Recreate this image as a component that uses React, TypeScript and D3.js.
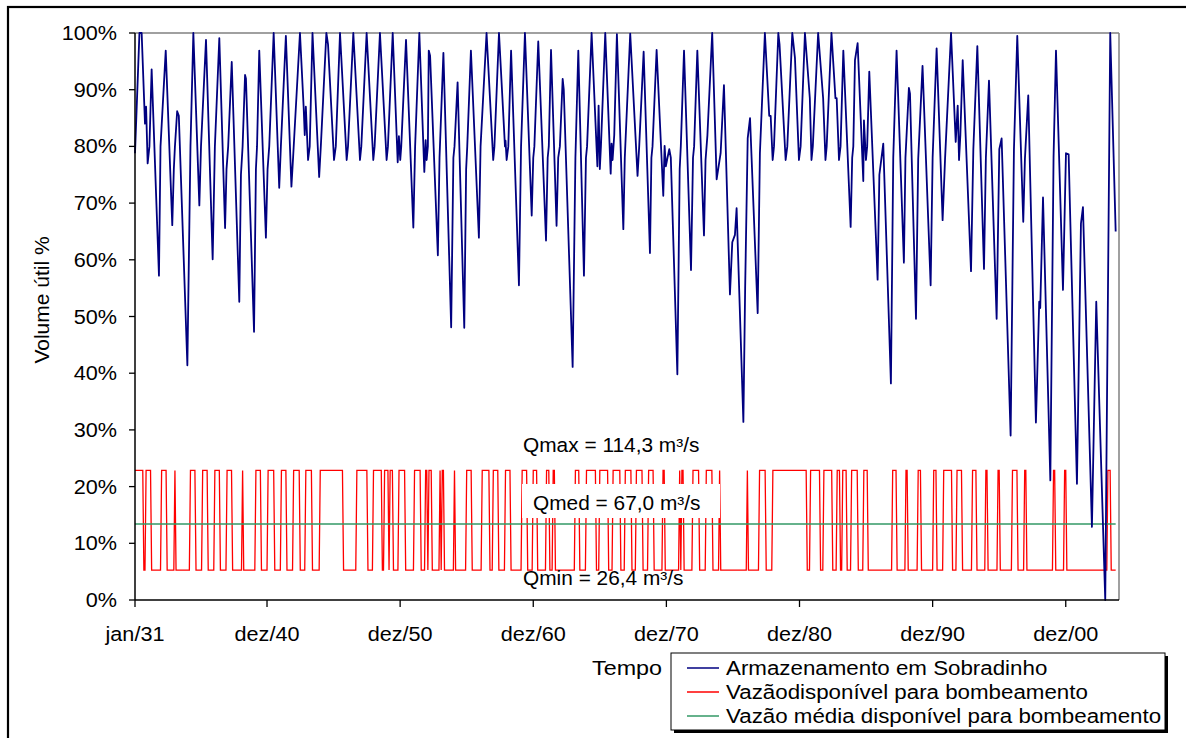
import React from "react";
import * as d3 from "d3";

// chart frame (pixels inside the 1186x738 picture)
const W = 1186;
const H = 738;
const plot = { left: 135, top: 33, right: 1119, bottom: 600 };

// months are counted from jan/1931 (index 0)
const nMonths = 888;
const lastMonth = 884;

const yTicks = [0, 10, 20, 30, 40, 50, 60, 70, 80, 90, 100];
const xTickMonths = [0, 119, 239, 359, 479, 599, 719, 839];
const xTickLabels = ["jan/31", "dez/40", "dez/50", "dez/60", "dez/70", "dez/80", "dez/90", "dez/00"];

// Armazenamento em Sobradinho (% volume útil), [mês, valor] read at the turning points
const armazenamento: [number, number][] = [
  [0, 78.8], [4, 100], [6, 100], [9, 84], [10, 87], [11.4, 77], [13, 80], [15, 93.6], [21.6, 57.2], [23, 80],
  [27.7, 96.9], [33.6, 66.1], [35, 76], [36, 80], [38, 86.2], [39.5, 85.4], [47.2, 41.4], [50, 80], [52.6, 100],
  [58, 69.6], [59.5, 80], [64, 98.8], [70, 60.1], [72, 80], [76, 99.1], [81.2, 65.6], [82.5, 76], [84, 80],
  [87.2, 94.9], [94, 52.6], [95.5, 75], [97, 80], [99.2, 92.6], [100, 92], [107.3, 47.3], [109, 76], [110, 80],
  [112, 96.9], [118, 63.9], [119.5, 76], [121, 80], [125, 100], [130, 72.7], [131.5, 80], [136, 99.5],
  [141, 72.9], [142.5, 78], [148.7, 100], [152, 87], [153, 82], [154, 87], [156, 77.6], [157.5, 80], [160, 100],
  [166, 74.6], [167.5, 80], [172.5, 100], [174, 98], [179.4, 77.6], [181, 80], [184.8, 100], [190.8, 77.6],
  [192, 80], [196.8, 100], [202.8, 77.6], [204, 80], [208.8, 100], [214.8, 77.6], [216, 80], [220.8, 100],
  [226.8, 77.6], [228, 80], [232.3, 100], [236.8, 77.2], [237.9, 81.8], [239.1, 77.6], [240, 80], [244.3, 98.8],
  [250.9, 65.7], [252.5, 80], [256.3, 100], [260.8, 75.5], [262, 81.1], [262.9, 77.6], [264, 80], [264.8, 96.9],
  [266, 96], [273, 60.8], [274.5, 78], [278, 96.5], [285, 48.1], [287, 78], [288, 80], [290.8, 91.3], [296.8, 48],
  [298.5, 76], [299.5, 80], [302.8, 96.9], [310, 63.9], [311.5, 80], [316.9, 100], [322.9, 77.6], [324, 80],
  [328.1, 100], [333.5, 80], [334, 81], [335, 77.6], [336.5, 80], [339, 96.9], [346.1, 55.5], [348, 80],
  [351.5, 100], [357.6, 67.8], [359, 78], [360, 80], [363.5, 98.5], [370.5, 63.4], [372, 78], [373, 80], [375, 97],
  [380, 66], [381.5, 78], [383, 80], [385.5, 91.9], [386.5, 90], [394.5, 41.1], [397, 78], [399.6, 96.9],
  [404.7, 57.2], [406.5, 78], [407.5, 80], [411.6, 100], [416.8, 76.5], [417.9, 87.2], [419, 76], [420, 80],
  [423.9, 100], [428.8, 75.2], [429.6, 80.5], [430.5, 77.6], [432, 82], [434.4, 99.8], [440.2, 65.4], [441.5, 78],
  [446.4, 99.9], [453, 74.8], [454.5, 80], [458.5, 96.7], [464.2, 61.2], [465.5, 78], [466.5, 80], [470.2, 97],
  [476.2, 71.3], [477.4, 80.1], [478.5, 76.5], [480, 78], [481.6, 79.5], [483, 78], [488.9, 39.8], [491, 76],
  [492, 80], [494.9, 96.9], [501.2, 58.2], [503, 78], [504, 80], [506.9, 96.9], [512.9, 64.3], [514.3, 77.6],
  [516, 82], [520.3, 100], [524.3, 74.2], [527.9, 78.8], [530.9, 90.8], [536.3, 53.9], [538.4, 63.1], [540.8, 64.4],
  [542.3, 69.1], [548.4, 31.4], [550, 55], [552.3, 81.4], [554.4, 85], [561.3, 50.6], [563.3, 78.8], [567.8, 100],
  [571.7, 85.4], [573, 85.4], [574.8, 77.6], [576, 80], [579.9, 100], [581, 98], [586.5, 77.6], [588, 80],
  [592.5, 100], [594.9, 95.6], [598.5, 77.6], [600, 80], [603.9, 100], [608.3, 88.5], [609.8, 77.6], [611, 80],
  [615.8, 100], [620.3, 88.5], [622.4, 77.6], [623.5, 80], [627.8, 100], [631.4, 88.5], [632.5, 88.5],
  [634.6, 77.6], [636, 80], [638.5, 96.9], [645.1, 65.8], [646.5, 78], [647.5, 80], [649, 95.2], [651.4, 98.2],
  [656.5, 73.9], [657.1, 84.6], [658.9, 77.6], [660, 80], [661.9, 93.2], [669.4, 56.5], [671, 75], [674.5, 80.5],
  [681.4, 38.2], [683.5, 78], [686.5, 96.9], [693.1, 59.5], [694.5, 78], [697.6, 90.3], [698.6, 89.3], [704, 49.6],
  [706, 77.8], [709.9, 94.2], [717.2, 55.5], [719, 78], [722.6, 97.3], [728, 67], [730.2, 77.8], [735.6, 100],
  [739.8, 80.8], [741.6, 87.2], [742.8, 77.6], [744, 82], [746.1, 95.2], [753.6, 58], [755.7, 79.5], [759.3, 97.7],
  [765.3, 58.4], [767, 78], [769.8, 91.6], [776.7, 49.6], [779.1, 79.5], [781.2, 81.4], [789.3, 29], [792.3, 79.5],
  [795.3, 99.5], [800.7, 66.7], [802.2, 77.8], [805.2, 89], [812.1, 31.3], [815.1, 52.6], [816, 51.5],
  [818.5, 71], [825.1, 21.1], [828, 78], [830.2, 96.9], [836.5, 54.7], [839.2, 78.8], [841.6, 78.6],
  [849.1, 20.5], [852.7, 66.4], [854.5, 69.3], [862.6, 12.9], [866.5, 52.6], [874.6, 0], [879.1, 100], [884, 65],
];

// Vazão disponível para bombeamento: months [início, fim) at the high level
const vazaoAlta: [number, number][] = [
  [0, 8], [10, 15], [24, 29], [36, 37], [50, 55], [61, 66], [72, 77], [83, 88], [97, 98], [109, 114], [120, 126],
  [132, 137], [143, 149], [154, 160], [167, 188], [200, 210], [215, 223], [225, 229], [230, 233], [238, 244],
  [252, 258], [262, 264], [265, 268], [275, 276], [277, 279], [288, 289], [299, 304], [313, 320], [323, 328],
  [334, 339], [349, 354], [359, 363], [371, 374], [377, 379], [397, 401], [407, 416], [419, 427], [431, 438],
  [442, 448], [452, 458], [463, 468], [476, 478], [491, 492], [493, 495], [503, 509], [515, 521], [527, 528],
  [552, 553], [563, 569], [575, 606], [609, 618], [621, 629], [633, 636], [638, 642], [646, 652], [657, 661],
  [683, 687], [695, 697], [706, 709], [720, 723], [729, 737], [741, 746], [755, 759], [767, 769], [778, 780],
  [791, 796], [802, 804], [828, 830], [838, 840], [877, 880],
];
const vazaoMin = 5.28; // Qmin = 26,4 m³/s
const vazaoMax = 22.86; // Qmax = 114,3 m³/s
const vazaoMedia = 13.4; // Qmed = 67,0 m³/s

const legendItems = [
  { label: "Armazenamento em Sobradinho", color: "#000080" },
  { label: "Vazãodisponível para bombeamento", color: "#ff0000" },
  { label: "Vazão média disponível para bombeamento", color: "#339966" },
];

const FONT = "'Liberation Sans', Arial, sans-serif";
const SX = 1.11; // the original text is a little stretched sideways

const Label = ({ x, y, anchor = "start", size = 19.5, sx = SX, children }: any) => (
  <text
    transform={`translate(${x},${y}) scale(${sx},1)`}
    textAnchor={anchor}
    fontSize={size}
    fontFamily={FONT}
    fill="#000"
  >
    {children}
  </text>
);

export default function App() {
  const x = d3.scaleLinear().domain([0, nMonths - 1]).range([plot.left, plot.right]);
  const y = d3.scaleLinear().domain([0, 100]).range([plot.bottom, plot.top]);

  const line = d3
    .line<[number, number]>()
    .x((d) => x(d[0]))
    .y((d) => y(d[1]));

  const vazao: [number, number][] = d3.range(0, lastMonth + 1).map((m) => [
    m,
    vazaoAlta.some(([a, b]) => m >= a && m < b) ? vazaoMax : vazaoMin,
  ]);

  return (
    <svg width={W} height={H} style={{ position: "absolute", left: 0, top: 0, background: "#fff" }}>
      <rect x={0} y={0} width={W} height={H} fill="#fff" />
      {/* outer chart border */}
      <rect x={8} y={7} width={W + 20} height={H + 20} fill="none" stroke="#000" strokeWidth={2.2} />

      {/* plot frame */}
      <line x1={plot.left} x2={plot.right} y1={plot.top} y2={plot.top} stroke="#808080" strokeWidth={1.5} />
      <line x1={plot.right} x2={plot.right} y1={plot.top} y2={plot.bottom} stroke="#808080" strokeWidth={1.5} />

      {/* series */}
      <path d={line(vazao)!} fill="none" stroke="#ff0000" strokeWidth={1.3} />
      <line
        x1={x(0)}
        x2={x(lastMonth)}
        y1={y(vazaoMedia)}
        y2={y(vazaoMedia)}
        stroke="#339966"
        strokeWidth={1.4}
      />
      <path d={line(armazenamento)!} fill="none" stroke="#000080" strokeWidth={1.8} strokeLinejoin="round" />

      {/* axes */}
      <line x1={plot.left} x2={plot.left} y1={plot.top} y2={plot.bottom} stroke="#000" strokeWidth={1.5} />
      <line x1={plot.left} x2={plot.right} y1={plot.bottom} y2={plot.bottom} stroke="#000" strokeWidth={1.5} />
      {yTicks.map((t) => (
        <g key={t}>
          <line x1={plot.left - 6} x2={plot.left} y1={y(t)} y2={y(t)} stroke="#000" strokeWidth={1.3} />
          <Label x={117} y={y(t) + 7} anchor="end">{`${t}%`}</Label>
        </g>
      ))}
      {xTickMonths.map((m, i) => (
        <g key={m}>
          <line x1={x(m)} x2={x(m)} y1={plot.bottom} y2={plot.bottom + 7} stroke="#000" strokeWidth={1.3} />
          <Label x={x(m)} y={641} anchor="middle">{xTickLabels[i]}</Label>
        </g>
      ))}

      <text
        transform="translate(49,300) rotate(-90)"
        textAnchor="middle"
        fontSize={21}
        fontFamily={FONT}
      >
        Volume útil %
      </text>
      <Label x={627} y={675} anchor="middle" size={21}>Tempo</Label>

      {/* annotations */}
      <Label x={523} y={452} sx={1.07}>Qmax = 114,3 m³/s</Label>
      <rect x={522} y={484} width={198} height={34} fill="#fff" />
      <Label x={533} y={510} sx={1.07}>Qmed = 67,0 m³/s</Label>
      <Label x={523} y={585} sx={1.07}>Qmin = 26,4 m³/s</Label>

      {/* legend */}
      <rect x={674} y={656} width={494} height={77} fill="#000" />
      <rect x={671} y={653} width={494} height={77} fill="#fff" stroke="#000" strokeWidth={1} />
      {legendItems.map((it, i) => (
        <g key={it.label}>
          <line x1={687} x2={719} y1={668 + i * 24} y2={668 + i * 24} stroke={it.color} strokeWidth={1.5} />
          <Label x={726} y={675 + i * 24} sx={1.145}>{it.label}</Label>
        </g>
      ))}
    </svg>
  );
}
